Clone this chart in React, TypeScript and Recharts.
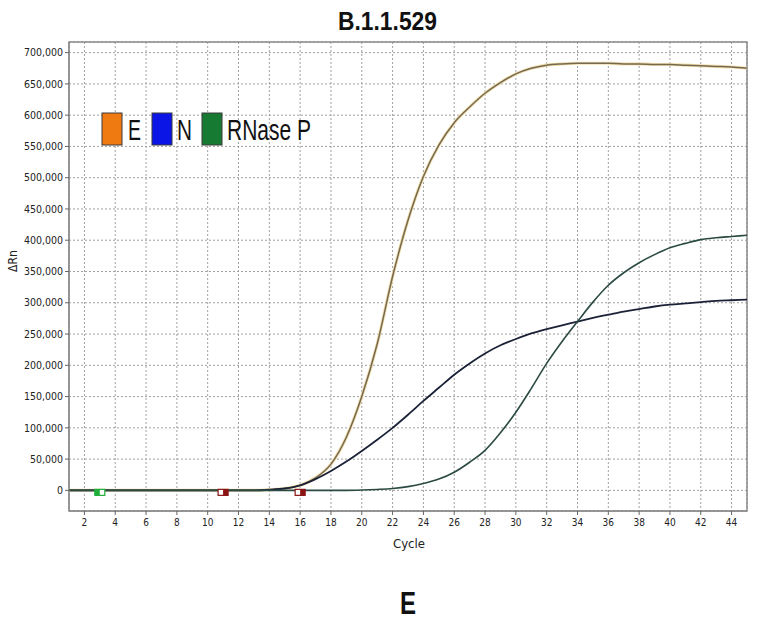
import React from "react";
import {
  LineChart,
  Line,
  XAxis,
  YAxis,
  CartesianGrid,
  ReferenceArea,
  ReferenceDot,
} from "recharts";

const cycles = [1, 2, 3, 4, 5, 6, 7, 8, 9, 10, 11, 12, 13, 14, 15, 16, 17, 18, 19, 20, 21, 22, 23, 24, 25, 26, 27, 28, 29, 30, 31, 32, 33, 34, 35, 36, 37, 38, 39, 40, 41, 42, 43, 44, 45];

const eValues = [0, 0, 0, 0, 0, 0, 0, 0, 0, 0, 0, 0, 0, 1000, 3000, 8000, 20000, 42000, 85000, 150000, 234000, 342000, 432000, 502000, 552000, 588000, 613000, 635000, 652000, 666000, 675000, 680000, 682000, 683000, 683000, 683000, 682000, 682000, 681000, 681000, 680000, 679000, 678000, 677000, 675000];

const nValues = [0, 0, 0, 0, 0, 0, 0, 0, 0, 0, 0, 0, 0, 1000, 3000, 8000, 18000, 31000, 46000, 63000, 81000, 100000, 121000, 143000, 164000, 185000, 203000, 219000, 232000, 242000, 251000, 258000, 264000, 270000, 276000, 281000, 286000, 290000, 294000, 297000, 299000, 301000, 303000, 304000, 305000];

const rnaseValues = [0, 0, 0, 0, 0, 0, 0, 0, 0, 0, 0, 0, 0, 0, 0, 0, 0, 0, 0, 500, 1500, 3000, 6000, 11000, 18000, 29000, 45000, 64000, 92000, 125000, 163000, 203000, 238000, 270000, 301000, 328000, 348000, 364000, 377000, 388000, 395000, 401000, 404000, 406000, 408000];

const xTicks = [2, 4, 6, 8, 10, 12, 14, 16, 18, 20, 22, 24, 26, 28, 30, 32, 34, 36, 38, 40, 42, 44];
const yTicks = [0, 50000, 100000, 150000, 200000, 250000, 300000, 350000, 400000, 450000, 500000, 550000, 600000, 650000, 700000];

const legendNames = ["E", "N", "RNase P"];
const legendColors = ["#f07a12", "#0b16e6", "#177a32"];

const markerCycles = [3, 11, 16];
const markerColors = ["#1fae3a", "#8a1414", "#8a1414"];

const data = cycles.map((c, i) => ({
  cycle: c,
  E: eValues[i],
  N: nValues[i],
  R: rnaseValues[i],
}));

const FONT = "'Liberation Sans Narrow', 'DejaVu Sans Condensed', 'Liberation Sans', Arial, sans-serif";
const TFONT = "'Liberation Sans', Arial, sans-serif";

const fmt = (v: number) => v.toLocaleString("en-US");

// legend layout (pixel geometry only)
const legendBoxX = [102, 152, 202];
const legendTextX = [128, 177, 227];
const legendTextW = [13, 15, 84];

const markerShape = (color: string, first: boolean) => (props: any) => {
  const { cx, cy } = props;
  const y = cy - 1;
  return (
    <g>
      <rect x={cx - 5} y={y} width={10} height={6} fill="#fff" stroke={color} strokeWidth={1.2} />
      <rect x={first ? cx - 5 : cx} y={y} width={5} height={6} fill={color} />
    </g>
  );
};

export default function App() {
  return (
    <div style={{ position: "absolute", left: 0, top: 0, width: 759, height: 623, background: "#fff" }}>
      <LineChart
        width={759}
        height={623}
        data={data}
        margin={{ top: 42, right: 12, bottom: 82, left: 9 }}
      >
        <CartesianGrid stroke="#a0a0a0" strokeDasharray="2 2" strokeWidth={1} />
        <XAxis
          dataKey="cycle"
          type="number"
          domain={[1, 45]}
          ticks={xTicks}
          height={30}
          tickSize={4}
          tickMargin={4}
          axisLine={{ stroke: "#888" }}
          tickLine={{ stroke: "#666" }}
          tick={{ fontSize: 10, fill: "#222", fontFamily: FONT }}
          allowDataOverflow
        />
        <YAxis
          type="number"
          domain={[-33000, 717000]}
          ticks={yTicks}
          width={60}
          tickSize={4}
          tickMargin={2}
          tickFormatter={fmt}
          axisLine={{ stroke: "#888" }}
          tickLine={{ stroke: "#666" }}
          tick={{ fontSize: 10.5, fill: "#222", fontFamily: FONT }}
          allowDataOverflow
        />
        <ReferenceArea x1={1} x2={45} y1={-33000} y2={717000} fill="none" stroke="#8a8a8a" strokeWidth={1.5} ifOverflow="visible" />
        <Line type="monotone" dataKey="E" stroke="#f2dfae" strokeWidth={3.2} dot={false} isAnimationActive={false} legendType="none" />
        <Line type="monotone" dataKey="E" stroke="#75694f" strokeWidth={1.5} dot={false} isAnimationActive={false} legendType="none" />
        <Line type="monotone" dataKey="N" stroke="#1b2238" strokeWidth={1.8} dot={false} isAnimationActive={false} legendType="none" />
        <Line type="monotone" dataKey="R" stroke="#2b4a43" strokeWidth={1.6} dot={false} isAnimationActive={false} legendType="none" />
        {markerCycles.map((c, i) => (
          <ReferenceDot key={c} x={c} y={0} r={4} shape={markerShape(markerColors[i], i === 0)} ifOverflow="visible" />
        ))}
        {legendNames.map((n, i) => (
          <g key={n}>
            <rect x={legendBoxX[i]} y={113} width={20} height={32} fill={legendColors[i]} stroke="#3a3a3a" strokeWidth={1} />
            <text
              x={legendTextX[i]}
              y={140}
              fontFamily={TFONT}
              fontSize={30}
              fill="#111"
              textLength={legendTextW[i]}
              lengthAdjust="spacingAndGlyphs"
            >
              {n}
            </text>
          </g>
        ))}
        <text x={338} y={30} fontFamily={TFONT} fontWeight="bold" fontSize={25} fill="#111" textLength={99} lengthAdjust="spacingAndGlyphs">
          B.1.1.529
        </text>
        <text x={409} y={548} textAnchor="middle" fontFamily={FONT} fontSize={13} fill="#222">
          Cycle
        </text>
        <text x={17} y={261} textAnchor="middle" fontFamily={FONT} fontSize={12} fill="#222" transform="rotate(-90 17 261)">
          ΔRn
        </text>
        <text x={400} y={614} fontFamily={TFONT} fontWeight="bold" fontSize={32} fill="#111" textLength={16} lengthAdjust="spacingAndGlyphs">
          E
        </text>
      </LineChart>
    </div>
  );
}
